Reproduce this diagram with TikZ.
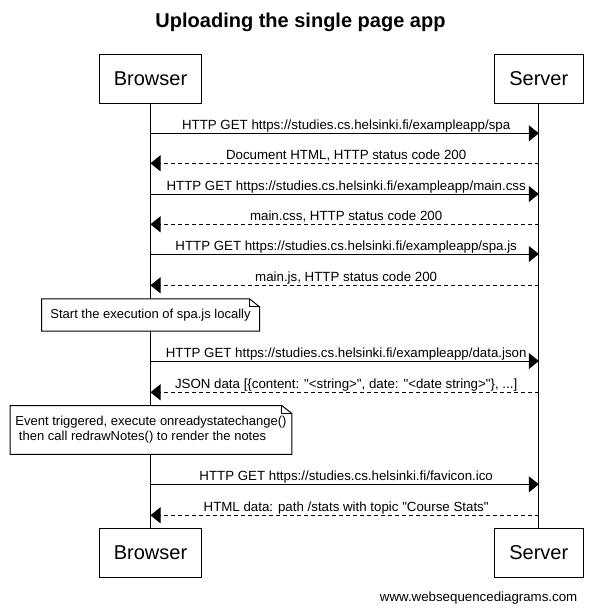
\documentclass[tikz,border=0pt]{standalone}
\usepackage{fontspec}
\setmainfont{Liberation Sans}[Ligatures=TeXOff]
\usetikzlibrary{arrows.meta}
\begin{document}
\begin{tikzpicture}[x=1pt,y=-1pt,
  pbox/.style={draw, line width=1pt, minimum height=49pt, inner sep=0pt, font=\fontsize{20}{24}\selectfont, text depth=0pt},
  life/.style={line width=1pt},
  msg/.style={line width=1pt, -{Triangle[length=10pt,width=16pt]}},
  ret/.style={msg, dash pattern=on 4pt off 3pt},
  lbl/.style={anchor=base, yshift=3.5pt, xshift=1.5pt, inner sep=0pt, font=\fontsize{13.3}{15.5}\selectfont},
  notebox/.style={inner sep=0pt, fill=white, font=\fontsize{13}{15.3}\selectfont},
  noteline/.style={line width=1pt},
]
\useasboundingbox (0,0) rectangle (598,611);
\fill[white] (0,0) rectangle (598,611);
\node[font=\bfseries\fontsize{20}{24}\selectfont, anchor=base, inner sep=0pt] (title) at (300.5,27.6) {Uploading the single page app};

\node[pbox, minimum width=102pt] (bt) at (150.5,78.8) {Browser};
\node[pbox, minimum width=89.3pt] (st) at (538.8,78.8) {Server};
\node[pbox, minimum width=102pt] (bb) at (150.5,552.5) {Browser};
\node[pbox, minimum width=89.3pt] (sb) at (538.8,552.5) {Server};

\draw[life] (bt.south) -- (bb.north);
\draw[life] (st.south) -- (sb.north);

\foreach \i/\y in {1/133.3,2/163.3,3/194,4/224.3,5/254,6/285.3,7/361,8/392.3,9/484.3,10/515.3}{
  \coordinate (b\i) at (150.5,\y);
  \coordinate (s\i) at (538.8,\y);
}

\draw[msg] (b1) -- node[lbl]{HTTP GET https://studies.cs.helsinki.fi/exampleapp/spa} (s1);
\draw[ret] (s2) -- node[lbl]{Document HTML, HTTP status code 200} (b2);
\draw[msg] (b3) -- node[lbl]{HTTP GET https://studies.cs.helsinki.fi/exampleapp/main.css} (s3);
\draw[ret] (s4) -- node[lbl]{main.css, HTTP status code 200} (b4);
\draw[msg] (b5) -- node[lbl]{HTTP GET https://studies.cs.helsinki.fi/exampleapp/spa.js} (s5);
\draw[ret] (s6) -- node[lbl]{main.js, HTTP status code 200} (b6);
\draw[msg] (b7) -- node[lbl]{HTTP GET https://studies.cs.helsinki.fi/exampleapp/data.json} (s7);
\draw[ret] (s8) -- node[lbl]{JSON data [\{content: "<string>", date: "<date string>"\}, ...]} (b8);
\draw[msg] (b9) -- node[lbl]{HTTP GET https://studies.cs.helsinki.fi/favicon.ico} (s9);
\draw[ret] (s10) -- node[lbl]{HTML data: path /stats with topic "Course Stats"} (b10);

\node[notebox, minimum width=217.6pt, minimum height=32pt] (n1) at (150.5,315) {Start the execution of spa.js locally};
\draw[noteline] (n1.south west) -- (n1.north west) -- ([xshift=-10pt]n1.north east) -- ([yshift=-8pt]n1.north east) -- (n1.south east) -- cycle;
\draw[noteline] ([xshift=-10pt]n1.north east) -- ([xshift=-10pt,yshift=-8pt]n1.north east) -- ([yshift=-8pt]n1.north east);

\node[notebox, align=left, minimum width=281.4pt, minimum height=48.3pt] (n2) at (151,429.9) {Event triggered, execute onreadystatechange()\\\hspace*{3.5pt}then call redrawNotes() to render the notes};
\draw[noteline] (n2.south west) -- (n2.north west) -- ([xshift=-10pt]n2.north east) -- ([yshift=-8pt]n2.north east) -- (n2.south east) -- cycle;
\draw[noteline] ([xshift=-10pt]n2.north east) -- ([xshift=-10pt,yshift=-8pt]n2.north east) -- ([yshift=-8pt]n2.north east);

\node[font=\fontsize{13.3}{15}\selectfont, anchor=base east, inner sep=0pt] (foot) at (577.5,601) {www.websequencediagrams.com};
\end{tikzpicture}
\end{document}
